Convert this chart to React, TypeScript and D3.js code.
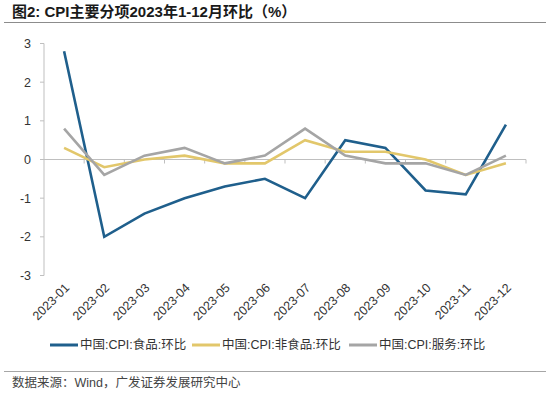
import React from 'react';
import * as d3 from 'd3';

const months = ['2023-01', '2023-02', '2023-03', '2023-04', '2023-05', '2023-06', '2023-07', '2023-08', '2023-09', '2023-10', '2023-11', '2023-12'];
const food = [2.8, -2.0, -1.4, -1.0, -0.7, -0.5, -1.0, 0.5, 0.3, -0.8, -0.9, 0.9];
const nonFood = [0.3, -0.2, 0.0, 0.1, -0.1, -0.1, 0.5, 0.2, 0.2, 0.0, -0.4, -0.1];
const service = [0.8, -0.4, 0.1, 0.3, -0.1, 0.1, 0.8, 0.1, -0.1, -0.1, -0.4, 0.1];
const yTicks = [3, 2, 1, 0, -1, -2, -3];

const series = [
  { label: '中国:CPI:食品:环比', values: food, color: '#1f5f8c' },
  { label: '中国:CPI:非食品:环比', values: nonFood, color: '#e2c76b' },
  { label: '中国:CPI:服务:环比', values: service, color: '#a5a5a5' },
];

const App = () => {
  const Width = 550;
  const Height = 393;
  const margin = { left: 44, right: 24, top: 43.5, bottom: 117.5 };
  const chartWidth = Width - margin.left - margin.right;
  const chartHeight = Height - margin.top - margin.bottom;

  const xScale = d3.scaleBand().domain(months).range([0, chartWidth]);
  const yScale = d3.scaleLinear().domain([-3, 3]).range([chartHeight, 0]);
  const font = 'Arial, "Liberation Sans", "Noto Sans CJK SC", sans-serif';
  const axisColor = '#bfbfbf';

  const line = d3.line<number>()
    .x((_, i) => xScale(months[i])! + xScale.bandwidth() / 2)
    .y((d) => yScale(d));

  const legendX = [50, 192, 349];

  return (
    <svg width={Width} height={Height} style={{ position: 'absolute', left: 0, top: 0 }} fontFamily={font}>
      <rect width={Width} height={Height} fill="#fff" />
      <text x={12} y={17} fontSize={15} fontWeight="bold" fill="#1a1a1a">图2:  CPI主要分项2023年1-12月环比（%）</text>
      <line x1={4} x2={546} y1={22.5} y2={22.5} stroke="#8c8c8c" strokeWidth={1.2} />

      <g transform={`translate(${margin.left}, ${margin.top})`}>
        {/* y axis */}
        <line x1={0} x2={0} y1={0} y2={chartHeight} stroke={axisColor} />
        {yTicks.map((t) => (
          <g key={t}>
            <line x1={-4} x2={0} y1={yScale(t)} y2={yScale(t)} stroke={axisColor} />
            <text x={-13} y={yScale(t)} dy="0.35em" textAnchor="end" fontSize={12.5} fill="#333">{t}</text>
          </g>
        ))}
        {/* zero line with category ticks */}
        <line x1={0} x2={chartWidth} y1={yScale(0)} y2={yScale(0)} stroke={axisColor} strokeWidth={1.2} />
        {months.map((m) => (
          <line key={m} x1={xScale(m)! + xScale.bandwidth()} x2={xScale(m)! + xScale.bandwidth()} y1={yScale(0)} y2={yScale(0) + 4} stroke={axisColor} />
        ))}

        {series.map((s) => (
          <path key={s.label} d={line(s.values)!} fill="none" stroke={s.color} strokeWidth={2.6} strokeLinejoin="miter" />
        ))}

        {/* x labels */}
        {months.map((m) => {
          const cx = xScale(m)! + xScale.bandwidth() / 2 + 6;
          const cy = chartHeight + 13;
          return (
            <text key={m} x={cx} y={cy} textAnchor="end" fontSize={12.5} fill="#333" transform={`rotate(-45, ${cx}, ${cy})`}>
              {m}
            </text>
          );
        })}
      </g>

      {/* legend */}
      {series.map((s, i) => (
        <g key={s.label} transform={`translate(${legendX[i]}, 345)`}>
          <line x1={0} x2={28} y1={0} y2={0} stroke={s.color} strokeWidth={3} />
          <text x={30} y={0} dy="0.35em" fontSize={12.5} fill="#333">{s.label}</text>
        </g>
      ))}

      <line x1={4} x2={546} y1={371.5} y2={371.5} stroke="#a6a6a6" strokeWidth={1.2} />
      <text x={12} y={387} fontSize={12.5} fill="#444">数据来源：Wind，广发证券发展研究中心</text>
    </svg>
  );
};

export default App;
